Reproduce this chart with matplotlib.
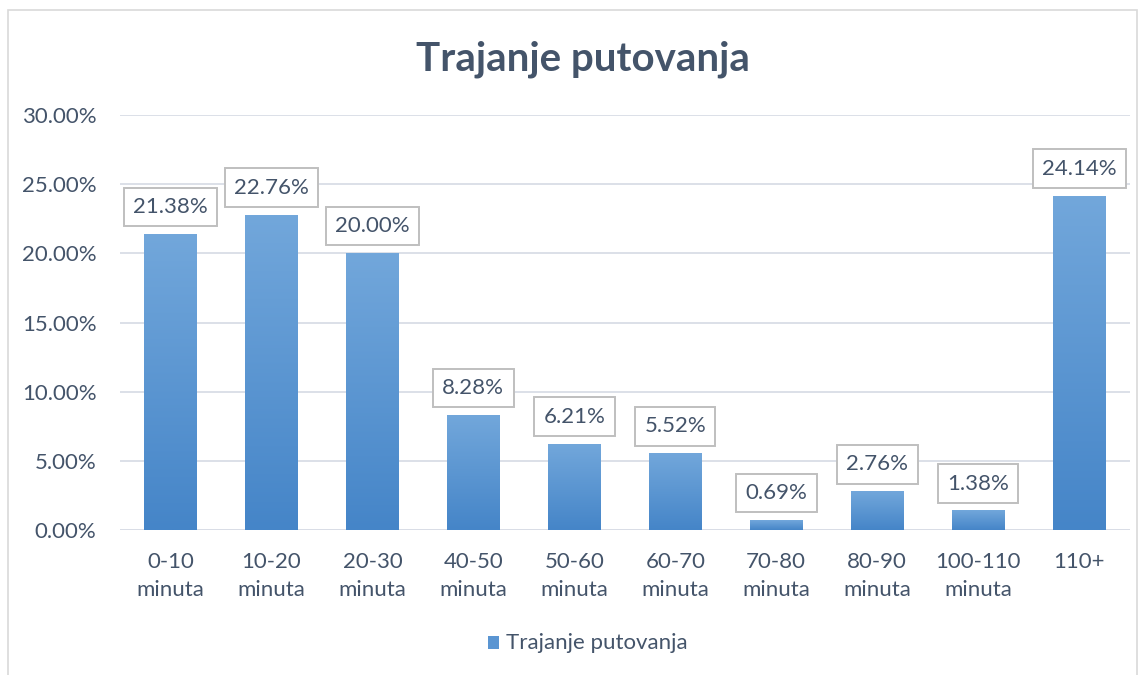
import matplotlib.pyplot as plt
import numpy as np
from matplotlib.patches import Rectangle
from matplotlib.colors import LinearSegmentedColormap
from matplotlib.ticker import PercentFormatter

categories = ['0-10\nminuta', '10-20\nminuta', '20-30\nminuta', '40-50\nminuta', '50-60\nminuta',
              '60-70\nminuta', '70-80\nminuta', '80-90\nminuta', '100-110\nminuta', '110+']
values = [21.38, 22.76, 20.00, 8.28, 6.21, 5.52, 0.69, 2.76, 1.38, 24.14]
series_name = 'Trajanje putovanja'

plt.rcParams['font.family'] = ['Lato', 'DejaVu Sans']
txt_color = '#44546A'
grad = LinearSegmentedColormap.from_list('bar', ['#4585C8', '#72A7DB'])
fs = 16

fig = plt.figure(figsize=(11.48, 6.75), dpi=100)
ax = fig.add_axes([0.1045, 0.2148, 0.8795, 0.6148])

x = np.arange(len(categories))
w = 0.52
bars = ax.bar(x, values, width=w, color='none', zorder=2)
g = np.linspace(0, 1, 256).reshape(-1, 1)
for b in bars:
    x0, h = b.get_x(), b.get_height()
    ax.imshow(g, cmap=grad, origin='lower', aspect='auto', zorder=2,
              extent=[x0, x0 + w, 0, h])

for xi, v in zip(x, values):
    ax.annotate(f'{v:.2f}%', (xi, v), xytext=(0, 12.5), textcoords='offset points',
                ha='center', va='bottom', fontsize=fs, color=txt_color, zorder=4,
                bbox=dict(boxstyle='square,pad=0.42', fc='white', ec='#BFBFBF', lw=1.4))

ax.set_xlim(-0.5, len(categories) - 0.5)
ax.set_ylim(0, 30)
ax.set_yticks(np.arange(0, 31, 5))
ax.yaxis.set_major_formatter(PercentFormatter(decimals=2))
ax.set_xticks(x)
ax.set_xticklabels(categories, linespacing=1.5)
ax.tick_params(length=0, labelsize=fs, labelcolor=txt_color)
ax.tick_params(axis='y', pad=17)
ax.tick_params(axis='x', pad=16)
ax.grid(axis='y', color='#D9DDE6', lw=1.3, zorder=0)
for s in ax.spines.values():
    s.set_visible(False)
ax.axhline(0, color='#D9DDE6', lw=1.3, zorder=1)

fig.text(0.508, 0.912, 'Trajanje putovanja', ha='center', va='center',
         fontsize=29, fontweight='bold', color=txt_color)

# legend
fig.patches.append(Rectangle((0.4255, 0.0385), 0.0095, 0.02, transform=fig.transFigure,
                             fc='#5A95D2', ec='none'))
fig.text(0.4405, 0.047, series_name, ha='left', va='center', fontsize=fs, color=txt_color)

# chart frame
fig.patches.append(Rectangle((0.007, -0.01), 0.983, 0.995, transform=fig.transFigure,
                             fill=False, ec='#D9D9D9', lw=1.2))

fig.savefig('out.png', dpi=100)
